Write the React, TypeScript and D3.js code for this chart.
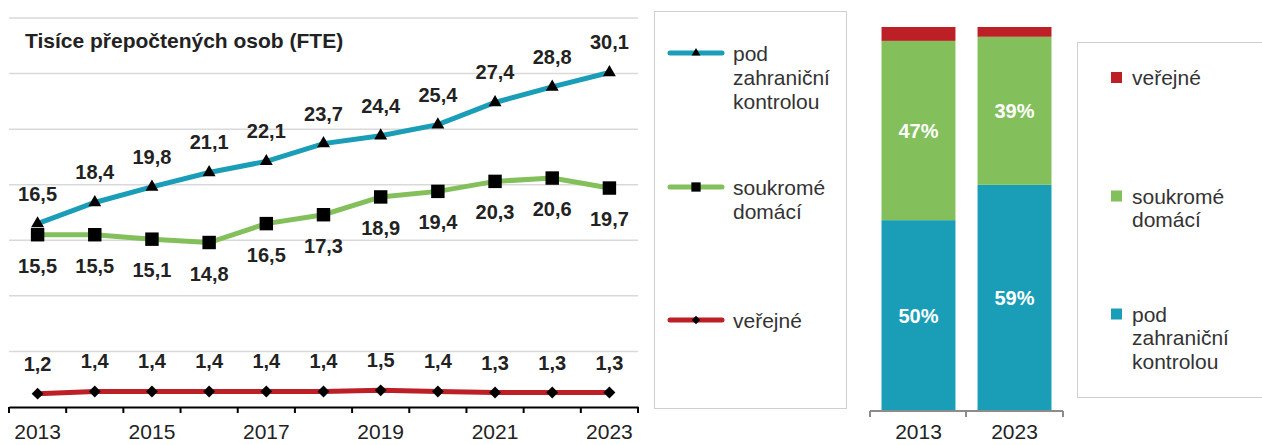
import React, { useEffect, useRef } from 'react';
import * as d3 from 'd3';

const years = ['2013', '2014', '2015', '2016', '2017', '2018', '2019', '2020', '2021', '2022', '2023'];
const yearLabels = ['2013', '2015', '2017', '2019', '2021', '2023'];
const foreignCtrl = [16.5, 18.4, 19.8, 21.1, 22.1, 23.7, 24.4, 25.4, 27.4, 28.8, 30.1];
const domesticPriv = [15.5, 15.5, 15.1, 14.8, 16.5, 17.3, 18.9, 19.4, 20.3, 20.6, 19.7];
const publicSector = [1.2, 1.4, 1.4, 1.4, 1.4, 1.4, 1.5, 1.4, 1.3, 1.3, 1.3];
const yTicks = [0, 5, 10, 15, 20, 25, 30, 35];
const shareYears = ['2013', '2023'];
const seriesNames = ['pod zahraniční kontrolou', 'soukromé domácí', 'veřejné'];

const BLUE = '#1a9db6';
const GREEN = '#83c05b';
const RED = '#bd1f27';
const FONT = '"Liberation Sans", Arial, sans-serif';

export default function App() {
  const ref = useRef<SVGSVGElement>(null);

  useEffect(() => {
    const svg = d3.select(ref.current);
    svg.selectAll('*').remove();

    // ---- left line chart ----
    const x = d3.scaleBand().domain(years).range([9, 638]);
    const y = d3.scaleLinear().domain([0, 35]).range([407, 18]);
    const cx = (i: number) => (x(years[i]) as number) + x.bandwidth() / 2;

    svg.append('g')
      .selectAll('line')
      .data(yTicks.filter((t) => t > 0))
      .enter()
      .append('line')
      .attr('x1', 9)
      .attr('x2', 638)
      .attr('y1', (d) => y(d))
      .attr('y2', (d) => y(d))
      .attr('stroke', '#d9d9d9')
      .attr('stroke-width', 1.5);

    const xAxis = svg.append('g')
      .attr('transform', 'translate(0,407)')
      .call(
        d3.axisBottom(x)
          .tickValues([])
          .tickSize(0)
      );
    xAxis.select('.domain').attr('stroke', '#000').attr('stroke-width', 2);
    // tick marks at band edges
    const edges = years.map((yr) => x(yr) as number).concat([638]);
    xAxis.selectAll('.edge')
      .data(edges)
      .enter()
      .append('line')
      .attr('x1', (d) => d)
      .attr('x2', (d) => d)
      .attr('y1', 0)
      .attr('y2', 6)
      .attr('stroke', '#000')
      .attr('stroke-width', 2);
    xAxis.selectAll('.lbl')
      .data(yearLabels)
      .enter()
      .append('text')
      .attr('x', (d) => cx(years.indexOf(d)))
      .attr('y', 32)
      .attr('text-anchor', 'middle')
      .attr('font-family', FONT)
      .attr('font-size', 21)
      .attr('fill', '#222')
      .text((d) => d);

    svg.append('text')
      .attr('x', 25)
      .attr('y', 48)
      .attr('font-family', FONT)
      .attr('font-size', 21)
      .attr('font-weight', 'bold')
      .attr('fill', '#222')
      .text('Tisíce přepočtených osob (FTE)');

    const line = d3.line<number>()
      .x((d, i) => cx(i))
      .y((d) => y(d));

    const series = [
      { vals: publicSector, color: RED, marker: 'diamond', dy: -23 },
      { vals: domesticPriv, color: GREEN, marker: 'square', dy: 38 },
      { vals: foreignCtrl, color: BLUE, marker: 'triangle', dy: -23 },
    ];
    const sym: Record<string, any> = {
      diamond: d3.symbol().type(d3.symbolDiamond2).size(90),
      square: d3.symbol().type(d3.symbolSquare2).size(230),
      triangle: d3.symbol().type(d3.symbolTriangle2).size(120),
    };
    const legSym: Record<string, any> = {
      diamond: d3.symbol().type(d3.symbolDiamond2).size(45),
      square: d3.symbol().type(d3.symbolSquare2).size(110),
      triangle: d3.symbol().type(d3.symbolTriangle2).size(55),
    };

    series.forEach((s) => {
      svg.append('path')
        .datum(s.vals)
        .attr('d', line)
        .attr('fill', 'none')
        .attr('stroke', s.color)
        .attr('stroke-width', 5);
    });
    series.forEach((s) => {
      svg.append('g')
        .selectAll('path')
        .data(s.vals)
        .enter()
        .append('path')
        .attr('d', sym[s.marker])
        .attr('transform', (d, i) => 'translate(' + cx(i) + ',' + y(d) + ')')
        .attr('fill', '#000');
      svg.append('g')
        .selectAll('text')
        .data(s.vals)
        .enter()
        .append('text')
        .attr('x', (d, i) => cx(i))
        .attr('y', (d) => y(d) + s.dy)
        .attr('text-anchor', 'middle')
        .attr('font-family', FONT)
        .attr('font-size', 20)
        .attr('font-weight', 'bold')
        .attr('fill', '#222')
        .text((d) => d3.format('.1f')(d).replace('.', ','));
    });

    // ---- legend 1 ----
    svg.append('rect')
      .attr('x', 654.5)
      .attr('y', 11.5)
      .attr('width', 192)
      .attr('height', 397)
      .attr('fill', 'none')
      .attr('stroke', '#cfcfcf');
    const leg1 = [
      { color: BLUE, marker: 'triangle', y: 53, lines: ['pod', 'zahraniční', 'kontrolou'] },
      { color: GREEN, marker: 'square', y: 187, lines: ['soukromé', 'domácí'] },
      { color: RED, marker: 'diamond', y: 320, lines: ['veřejné'] },
    ];
    leg1.forEach((l) => {
      svg.append('line')
        .attr('x1', 670)
        .attr('x2', 722)
        .attr('y1', l.y)
        .attr('y2', l.y)
        .attr('stroke', l.color)
        .attr('stroke-width', 5)
        .attr('stroke-linecap', 'round');
      svg.append('path')
        .attr('d', legSym[l.marker])
        .attr('transform', 'translate(696,' + l.y + ')')
        .attr('fill', '#000');
      l.lines.forEach((t, j) => {
        svg.append('text')
          .attr('x', 733)
          .attr('y', l.y + 8 + j * 24)
          .attr('font-family', FONT)
          .attr('font-size', 21)
          .attr('fill', '#333')
          .text(t);
      });
    });

    // ---- right stacked 100% bars ----
    const rows = shareYears.map((yr) => {
      const i = years.indexOf(yr);
      return { year: yr, foreign: foreignCtrl[i], domestic: domesticPriv[i], pub: publicSector[i] };
    });
    const stack = d3.stack<any>()
      .keys(['foreign', 'domestic', 'pub'])
      .offset(d3.stackOffsetExpand);
    const stacked = stack(rows);
    const bx = d3.scaleBand().domain(shareYears).range([870, 1063]).paddingInner(0.23).paddingOuter(0.12);
    const by = d3.scaleLinear().domain([0, 1]).range([411, 27]);
    const colors = [BLUE, GREEN, RED];

    stacked.forEach((layer, k) => {
      const g = svg.append('g');
      g.selectAll('rect')
        .data(layer)
        .enter()
        .append('rect')
        .attr('x', (d) => bx(d.data.year) as number)
        .attr('width', bx.bandwidth())
        .attr('y', (d) => by(d[1]))
        .attr('height', (d) => by(d[0]) - by(d[1]))
        .attr('fill', colors[k]);
      if (k < 2) {
        g.selectAll('text')
          .data(layer)
          .enter()
          .append('text')
          .attr('x', (d) => (bx(d.data.year) as number) + bx.bandwidth() / 2)
          .attr('y', (d) => (by(d[0]) + by(d[1])) / 2 + 7)
          .attr('text-anchor', 'middle')
          .attr('font-family', FONT)
          .attr('font-size', 20)
          .attr('font-weight', 'bold')
          .attr('fill', '#fff')
          .text((d) => d3.format('.0%')(d[1] - d[0]));
      }
    });

    const bAxis = svg.append('g').attr('transform', 'translate(0,411)');
    bAxis.append('line')
      .attr('x1', 870)
      .attr('x2', 1063)
      .attr('stroke', '#8c8c8c')
      .attr('stroke-width', 2);
    bAxis.selectAll('.t')
      .data([870, (bx('2013') as number) + bx.bandwidth() + bx.step() * 0.23 / 2 - 0.5, 1063])
      .enter()
      .append('line')
      .attr('x1', (d) => d)
      .attr('x2', (d) => d)
      .attr('y1', 0)
      .attr('y2', 6)
      .attr('stroke', '#8c8c8c')
      .attr('stroke-width', 2);
    bAxis.selectAll('text')
      .data(shareYears)
      .enter()
      .append('text')
      .attr('x', (d) => (bx(d) as number) + bx.bandwidth() / 2)
      .attr('y', 28)
      .attr('text-anchor', 'middle')
      .attr('font-family', FONT)
      .attr('font-size', 21)
      .attr('fill', '#222')
      .text((d) => d);

    // ---- legend 2 ----
    svg.append('rect')
      .attr('x', 1077.5)
      .attr('y', 42.5)
      .attr('width', 200)
      .attr('height', 355)
      .attr('fill', 'none')
      .attr('stroke', '#cfcfcf');
    const leg2 = [
      { color: RED, y: 77.5, lines: ['veřejné'] },
      { color: GREEN, y: 196, lines: ['soukromé', 'domácí'] },
      { color: BLUE, y: 314, lines: ['pod', 'zahraniční', 'kontrolou'] },
    ];
    leg2.forEach((l) => {
      svg.append('rect')
        .attr('x', 1111)
        .attr('y', l.y - 5.5)
        .attr('width', 11)
        .attr('height', 11)
        .attr('fill', l.color);
      l.lines.forEach((t, j) => {
        svg.append('text')
          .attr('x', 1132)
          .attr('y', l.y + 7.5 + j * 23.5)
          .attr('font-family', FONT)
          .attr('font-size', 21)
          .attr('fill', '#333')
          .text(t);
      });
    });
  }, []);

  return (
    <svg
      ref={ref}
      width={1262}
      height={445}
      style={{ position: 'absolute', left: 0, top: 0, background: '#fff' }}
      aria-label={seriesNames.join(', ')}
    />
  );
}
